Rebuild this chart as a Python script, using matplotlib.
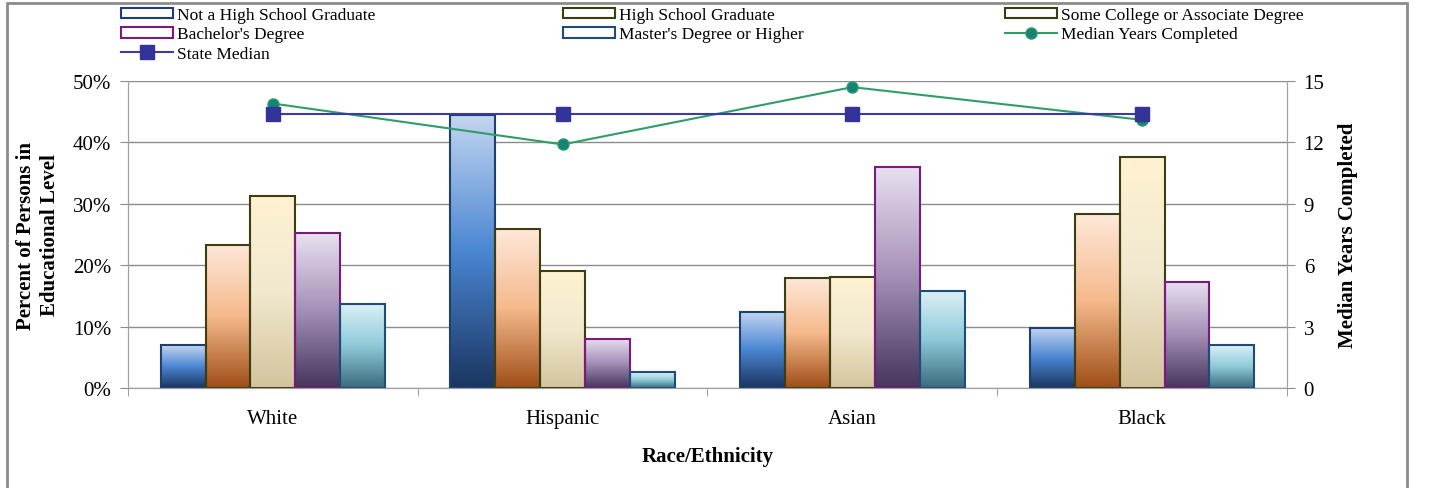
import numpy as np
import matplotlib
matplotlib.use('Agg')
from matplotlib import pyplot as plt
from matplotlib.colors import LinearSegmentedColormap
from matplotlib.patches import Rectangle
from matplotlib.lines import Line2D

plt.rcParams['font.family'] = ['Liberation Serif', 'DejaVu Serif']

races = ['White', 'Hispanic', 'Asian', 'Black']
levels = ['Not a High School Graduate', 'High School Graduate',
          'Some College or Associate Degree', "Bachelor's Degree",
          "Master's Degree or Higher"]
not_hs = [7.0, 44.5, 12.4, 9.8]
hs_grad = [23.3, 25.9, 17.9, 28.3]
some_college = [31.3, 19.1, 18.1, 37.6]
bachelors = [25.2, 8.0, 36.0, 17.3]
masters = [13.7, 2.6, 15.8, 7.0]
median_years = [13.9, 11.9, 14.7, 13.1]
state_median = [13.4, 13.4, 13.4, 13.4]

series = [not_hs, hs_grad, some_college, bachelors, masters]
# bottom, middle, top colours of each bar gradient
grads = [['#1b3560', '#4a86d2', '#c4d6f0'],
         ['#9f4e18', '#f5b98b', '#fee8da'],
         ['#d3c49c', '#f1e8cf', '#fff2d2'],
         ['#45365a', '#a48fb6', '#e8e0f0'],
         ['#3a6b7c', '#8ecad9', '#dcf0f6']]
edges = ['#1f3f6e', '#3d3d12', '#3d3d12', '#7b1a7e', '#1f4a7a']

fig = plt.figure(figsize=(14.3, 4.89), dpi=100)
ax = fig.add_axes([128/1430, 1-389/489, (1287-128)/1430, (389-82)/489])
ax2 = ax.twinx()

x = np.arange(len(races))
w = 0.155
grad = np.linspace(0, 1, 256).reshape(-1, 1)
bar_handles = []
for i, vals in enumerate(series):
    pos = x + (i - 2) * w
    bars = ax.bar(pos, vals, w, facecolor='none', edgecolor=edges[i], linewidth=1.5, zorder=3)
    cmap = LinearSegmentedColormap.from_list('g%d' % i, grads[i])
    for b in bars:
        im = ax.imshow(grad, cmap=cmap, origin='lower', aspect='auto', zorder=2,
                       extent=[b.get_x(), b.get_x() + b.get_width(), 0, b.get_height()])
        im.set_clip_path(b)
    bar_handles.append(Rectangle((0, 0), 1, 1, facecolor='white', edgecolor=edges[i], linewidth=1.5))

ax.set_xlim(-0.5, 3.5)
ax.set_ylim(0, 50)
ax.set_yticks(np.arange(0, 51, 10))
ax.set_yticklabels(['%d%%' % v for v in range(0, 51, 10)])
ax.yaxis.grid(True, color='#8c8c8c', linewidth=1)
ax.set_axisbelow(True)
ax.set_xticks(x)
ax.set_xticklabels(races)
ax.set_xticks([-0.5, 0.5, 1.5, 2.5, 3.5], minor=True)
ax.tick_params(axis='x', which='major', length=0, pad=15, labelsize=15)
ax.tick_params(axis='x', which='minor', length=6, color='#8c8c8c')
ax.tick_params(axis='y', length=6, color='#8c8c8c', labelsize=15, pad=6)

ax2.plot(x, median_years, color='#2e9e66', linewidth=1.5, marker='o', markersize=8,
         markerfacecolor='#138477', markeredgecolor='#2e9e66', zorder=4)
ax2.plot(x, state_median, color='#3a3aa8', linewidth=1.5, marker='s', markersize=10,
         markerfacecolor='#333399', markeredgecolor='#333399', zorder=5)
ax2.set_ylim(0, 15)
ax2.set_yticks(np.arange(0, 16, 3))
ax2.tick_params(axis='y', length=6, color='#8c8c8c', labelsize=15, pad=6)

for a in (ax, ax2):
    a.spines['top'].set_visible(False)
    for s in ('left', 'right', 'bottom'):
        a.spines[s].set_color('#a0a0a0')

ax.set_ylabel('Percent of Persons in\nEducational Level', fontsize=15, fontweight='bold',
              labelpad=9, linespacing=1.3)
ax2.set_ylabel('Median Years Completed', fontsize=15, fontweight='bold', labelpad=10)
ax.set_xlabel('Race/Ethnicity', fontsize=15, fontweight='bold', labelpad=13)

med_h = Line2D([], [], color='#2e9e66', linewidth=1.5, marker='o', markersize=8,
               markerfacecolor='#138477', markeredgecolor='#2e9e66')
st_h = Line2D([], [], color='#3a3aa8', linewidth=1.5, marker='s', markersize=10,
              markerfacecolor='#333399', markeredgecolor='#333399')

cols = [([bar_handles[0], bar_handles[3], st_h], [levels[0], levels[3], 'State Median'], 121),
        ([bar_handles[1], bar_handles[4]], [levels[1], levels[4]], 563),
        ([bar_handles[2], med_h], [levels[2], 'Median Years Completed'], 1005)]
for hs, ls, px in cols:
    fig.legend(hs, ls, loc='upper left', bbox_to_anchor=(px/1430, 1-8/489), frameon=False,
               fontsize=12.5, handlelength=3.0, handleheight=0.55, handletextpad=0.25,
               labelspacing=0.2, borderpad=0, borderaxespad=0)

fig.patches.append(Rectangle((7/1430, -0.05), 1400/1430, 1.05 - 4/489, transform=fig.transFigure,
                             fill=False, edgecolor='#8c8c8c', linewidth=2))

fig.savefig('out.png', dpi=100)
